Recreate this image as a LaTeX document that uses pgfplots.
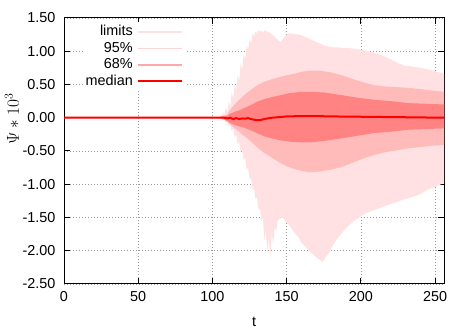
\documentclass[border=0pt]{standalone}
\usepackage{fontspec}
\setmainfont{Liberation Sans}
\usepackage{pgfplots}
\usepackage{pgfplotstable}
\pgfplotsset{compat=1.18}
\usepgfplotslibrary{fillbetween}

\definecolor{limc}{HTML}{FFE1E3}
\definecolor{bandB}{HTML}{FFBABA}
\definecolor{bandA}{HTML}{FF8383}
\definecolor{medc}{HTML}{FF0000}

% t lo hi
\pgfplotstableread{
t lo hi
0 -0.005 0.005
100 -0.005 0.005
104 -0.01 0.01
106 -0.02 0.03
107 -0.04 0.08
108 -0.03 0.04
109 -0.08 0.15
110 -0.05 0.08
111 -0.13 0.25
112 -0.10 0.15
113 -0.20 0.38
114 -0.16 0.28
115 -0.30 0.52
116 -0.25 0.40
117 -0.40 0.65
118 -0.36 0.55
119 -0.52 0.82
120 -0.48 0.72
121 -0.64 0.95
122 -0.60 0.88
123 -0.78 1.08
124 -0.75 1.02
125 -0.92 1.18
126 -0.90 1.12
127 -1.08 1.27
128 -1.05 1.22
129 -1.22 1.30
130 -1.20 1.27
131 -1.38 1.32
132 -1.36 1.29
133 -1.55 1.31
134 -1.50 1.28
135 -1.85 1.32
136 -1.70 1.30
137 -2.05 1.30
138 -1.80 1.28
139 -2.12 1.28
140 -1.75 1.25
141 -1.90 1.24
142 -1.65 1.22
143 -1.70 1.19
144 -1.55 1.17
146 -1.50 1.14
148 -1.52 1.20
150 -1.58 1.25
152 -1.62 1.27
155 -1.72 1.26
158 -1.80 1.25
160 -1.88 1.24
163 -1.95 1.21
166 -2.02 1.18
169 -2.08 1.15
172 -2.13 1.12
174 -2.17 1.10
176 -2.10 1.08
178 -2.05 1.07
181 -1.92 1.06
184 -1.82 1.06
187 -1.74 1.05
190 -1.66 1.05
195 -1.56 1.04
200 -1.48 1.02
205 -1.42 1.00
210 -1.38 0.97
215 -1.34 0.93
220 -1.30 0.88
225 -1.26 0.82
230 -1.22 0.78
235 -1.19 0.77
240 -1.15 0.75
245 -1.08 0.73
250 -1.04 0.70
256 -0.98 0.66
}\limtab

\pgfplotstableread{
t lo hi
0 -0.003 0.003
100 -0.003 0.003
105 -0.01 0.01
108 -0.03 0.03
110 -0.06 0.05
112 -0.10 0.12
115 -0.16 0.20
118 -0.21 0.27
120 -0.25 0.31
123 -0.30 0.37
126 -0.36 0.42
129 -0.42 0.47
132 -0.48 0.51
135 -0.53 0.54
140 -0.60 0.58
145 -0.67 0.61
150 -0.73 0.64
155 -0.77 0.66
160 -0.80 0.69
166 -0.82 0.71
172 -0.81 0.71
180 -0.78 0.68
187 -0.74 0.64
195 -0.67 0.58
202 -0.61 0.53
209 -0.56 0.49
216 -0.52 0.47
224 -0.49 0.46
232 -0.46 0.45
240 -0.44 0.43
248 -0.42 0.41
256 -0.41 0.39
}\ninetyfive

\pgfplotstableread{
t lo hi
0 -0.002 0.002
100 -0.002 0.002
105 -0.01 0.01
108 -0.02 0.02
110 -0.05 0.03
112 -0.08 0.06
115 -0.11 0.09
118 -0.13 0.11
120 -0.14 0.13
125 -0.18 0.18
130 -0.23 0.24
135 -0.28 0.28
140 -0.31 0.31
146 -0.34 0.34
152 -0.36 0.37
160 -0.37 0.39
166 -0.37 0.39
175 -0.35 0.38
187 -0.31 0.34
198 -0.27 0.30
209 -0.23 0.27
220 -0.21 0.25
232 -0.18 0.22
244 -0.17 0.21
256 -0.16 0.20
}\sixtyeight

\pgfplotstableread{
t y
0 0
100 0
108 0.0
110 -0.01
112 0.0
114 -0.02
116 -0.005
118 -0.02
120 -0.01
122 -0.015
124 -0.005
126 -0.02
128 -0.03
130 -0.035
132 -0.035
134 -0.025
137 -0.01
140 0.0
145 0.01
150 0.02
160 0.025
170 0.025
180 0.02
200 0.015
220 0.01
240 0.005
256 0.0
}\median

\begin{document}
\begin{tikzpicture}[font=\fontsize{14.4}{17}\selectfont]
\path (-64pt,-46pt) rectangle (407pt,284pt);
\begin{axis}[
  scale only axis, width=380pt, height=266pt,
  xmin=0, xmax=256, ymin=-2.5, ymax=1.5,
  xtick={0,50,100,150,200,250},
  ytick={-2.5,-2,-1.5,-1,-0.5,0,0.5,1,1.5},
  y tick label style={/pgf/number format/fixed, /pgf/number format/fixed zerofill,
    /pgf/number format/precision=2, xshift=-5pt},
  /pgf/number format/assume math mode=true,
  x tick label style={yshift=-4pt},
  tick align=inside, major tick length=6pt,
  tick style={black, line width=1pt},
  axis line style={black, line width=1pt},
  grid=major, grid style={gray!80, line width=0.5pt, dash pattern=on 0.8pt off 2.2pt},
  xlabel={t}, ylabel={$\Psi\ast10^{3}$},
  xlabel style={at={(rel axis cs:0.5,0)}, anchor=center, yshift=-38pt},
  ylabel style={at={(rel axis cs:-0.137,0.62)}, anchor=center,
    font=\fontsize{18}{20}\selectfont},
  legend cell align=right, legend plot pos=right,
  legend image code/.code={\draw[#1] (0pt,0pt) -- (44pt,0pt);},
  legend style={at={(rel axis cs:0,1)}, anchor=north east, xshift=121pt, yshift=-4pt,
    draw=none, fill=white, inner sep=2pt, row sep=1pt, column sep=3pt,
    nodes={inner sep=1pt, text height=10.5pt, text depth=3pt}},
]
\addplot[draw=none, name path=lh, forget plot] table[x=t, y=hi] {\limtab};
\addplot[draw=none, name path=ll, forget plot] table[x=t, y=lo] {\limtab};
\addplot[fill=limc, draw=none, forget plot] fill between[of=lh and ll];
\addplot[draw=none, name path=bh, forget plot] table[x=t, y=hi] {\ninetyfive};
\addplot[draw=none, name path=bl, forget plot] table[x=t, y=lo] {\ninetyfive};
\addplot[fill=bandB, draw=none, forget plot] fill between[of=bh and bl];
\addplot[draw=none, name path=ah, forget plot] table[x=t, y=hi] {\sixtyeight};
\addplot[draw=none, name path=al, forget plot] table[x=t, y=lo] {\sixtyeight};
\addplot[fill=bandA, draw=none, forget plot] fill between[of=ah and al];
\addlegendimage{limc, line width=1.5pt}
\addlegendentry{limits}
\addlegendimage{bandB!60!white, line width=1.5pt}
\addlegendentry{95\%}
\addlegendimage{bandA!70!white, line width=1.5pt}
\addlegendentry{68\%}
\addplot[medc, line width=2pt, mark=none] table[x=t, y=y] {\median};
\addlegendentry{median}
\end{axis}
\end{tikzpicture}
\end{document}
